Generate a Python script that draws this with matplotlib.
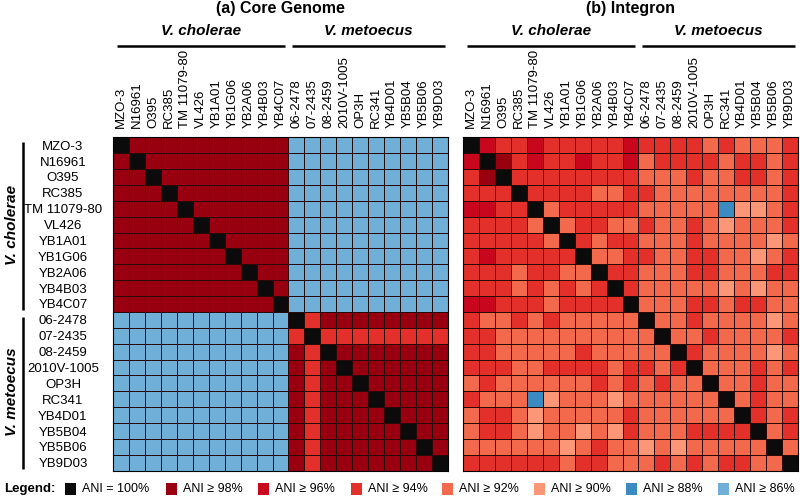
import numpy as np
import matplotlib
matplotlib.use("Agg")
import matplotlib.pyplot as plt
from matplotlib.colors import ListedColormap
from matplotlib.transforms import blended_transform_factory
from matplotlib.patches import Rectangle

plt.rcParams['font.family'] = ['Liberation Sans', 'DejaVu Sans']

# souches
cholerae = ["MZO-3", "N16961", "O395", "RC385", "TM 11079-80", "VL426",
            "YB1A01", "YB1G06", "YB2A06", "YB4B03", "YB4C07"]
metoecus = ["06-2478", "07-2435", "08-2459", "2010V-1005", "OP3H", "RC341",
            "YB4D01", "YB5B04", "YB5B06", "YB9D03"]
souches = cholerae + metoecus

# classes d'ANI (code -> libelle legende)
codes = ["K", "D", "C", "R", "O", "P", "B", "L"]
legendes = ["ANI = 100%", "ANI \u2265 98%", "ANI \u2265 96%", "ANI \u2265 94%",
            "ANI \u2265 92%", "ANI \u2265 90%", "ANI \u2265 88%", "ANI \u2265 86%"]
couleurs = ["#0b0b0b", "#98000f", "#c8061e", "#e3302a", "#f2694b", "#fb9676",
            "#3b8bc2", "#70b0d8"]

# (a) core genome, une ligne par souche
core = [
    "KDDDDDDDDDDLLLLLLLLLL",
    "DKDDDDDDDDDLLLLLLLLLL",
    "DDKDDDDDDDDLLLLLLLLLL",
    "DDDKDDDDDDDLLLLLLLLLL",
    "DDDDKDDDDDDLLLLLLLLLL",
    "DDDDDKDDDDDLLLLLLLLLL",
    "DDDDDDKDDDDLLLLLLLLLL",
    "DDDDDDDKDDDLLLLLLLLLL",
    "DDDDDDDDKDDLLLLLLLLLL",
    "DDDDDDDDDKDLLLLLLLLLL",
    "DDDDDDDDDDKLLLLLLLLLL",
    "LLLLLLLLLLLKRDDDDDDDD",
    "LLLLLLLLLLLRKRRRRRRRR",
    "LLLLLLLLLLLDRKDDDDDDD",
    "LLLLLLLLLLLDRDKDDDDDD",
    "LLLLLLLLLLLDRDDKDDDDD",
    "LLLLLLLLLLLDRDDDKDDDD",
    "LLLLLLLLLLLDRDDDDKDDD",
    "LLLLLLLLLLLDRDDDDDKDD",
    "LLLLLLLLLLLDRDDDDDDKD",
    "LLLLLLLLLLLDRDDDDDDDK",
]

# (b) integron
integron = [
    "KCRRCRRRRRCRRRROROOOR",
    "CKDRCRRCRRCORRRRORROR",
    "RDKRRRRRRRROOOROORROR",
    "RRRKRRRROORROOOOOOOOR",
    "CCRRKORRRRROOOOOBPPOR",
    "RRRROKORROOROOROPOOOR",
    "RRRRROKRORROOOROOOOPO",
    "RCRRRRRKOORROORROOPOR",
    "RRRORROOKRROOORROOORR",
    "RRRORORORKROOOOOPOPOO",
    "CCRRRORRRRKOOORRORROO",
    "ROOROROOOOOKOOROOOOPO",
    "RROOOOOOOOOOKOOROOOOR",
    "RROOOOOROOOOOKROOOOPO",
    "RRROORRRRORRORKOOOROR",
    "OROOOOOOROROROOKOOROO",
    "ROOOBPOOOPOOOOOOKOROO",
    "ORROPOOOOOROOOOOOKROR",
    "ORROPOOPOPROOORRRRKOR",
    "OOOOOOPOROOPOPOOOOOKO",
    "RRRRRRORROOORORORROOK",
]

cmap = ListedColormap(couleurs)
n = len(souches)


def en_indices(matrice):
    return np.array([[codes.index(c) for c in ligne] for ligne in matrice])


fig = plt.figure(figsize=(8, 4.99), dpi=100)
H = 499.0
ax1 = fig.add_axes([113 / 800, (H - 470.7) / H, 335 / 800, 333.4 / H])
ax2 = fig.add_axes([463 / 800, (H - 470.7) / H, 335 / 800, 333.4 / H])

for ax, mat, titre in [(ax1, core, "(a) Core Genome"), (ax2, integron, "(b) Integron")]:
    ax.pcolormesh(en_indices(mat), cmap=cmap, vmin=-0.5, vmax=7.5,
                  edgecolors="#2a0a08", linewidth=0.7)
    ax.set_xlim(0, n)
    ax.set_ylim(n, 0)
    ax.xaxis.tick_top()
    ax.set_xticks(np.arange(n) + 0.5)
    ax.set_xticklabels(souches, rotation=90, fontsize=9.5, va="bottom")
    ax.tick_params(axis="x", length=0, pad=7)
    ax.set_yticks([])
    for s in ax.spines.values():
        s.set_linewidth(0.8)
    tr = blended_transform_factory(ax.transData, ax.transAxes)
    # groupes au-dessus
    for nom, debut, fin in [("V. cholerae", 0, len(cholerae)), ("V. metoecus", len(cholerae), n)]:
        ax.plot([debut + 0.25, fin - 0.2], [1.274, 1.274], color="black", lw=1.8,
                transform=tr, clip_on=False, solid_capstyle="butt")
        ax.text((debut + fin) / 2, 1.318, nom, transform=tr, ha="center", va="center",
                fontsize=11, fontweight="bold", style="italic")
    ax.text(0.5, 1.386, titre, transform=ax.transAxes, ha="center", va="center",
            fontsize=11.5, fontweight="bold")

# etiquettes des lignes (seulement a gauche)
ax1.set_yticks(np.arange(n) + 0.5)
ax1.set_yticklabels(souches, fontsize=9.5, ha="center")
ax1.tick_params(axis="y", length=0, pad=36)

# groupes a gauche
tr = blended_transform_factory(ax1.transAxes, ax1.transData)
for nom, debut, fin in [("V. cholerae", 0, len(cholerae)), ("V. metoecus", len(cholerae), n)]:
    ax1.plot([-0.27, -0.27], [debut + 0.3, fin - 0.1], color="black", lw=1.8,
             transform=tr, clip_on=False, solid_capstyle="butt")
    ax1.text(-0.302, (debut + fin) / 2, nom, transform=tr, ha="center", va="center",
             rotation=90, fontsize=11, fontweight="bold", style="italic")

# legende
yl = (H - 489) / H
fig.text(4 / 800, yl, "Legend:", fontsize=9.5, fontweight="bold", va="center")
pos_carre = [65, 166, 258, 351, 442, 534, 626, 718]
for i in range(len(codes)):
    x0 = pos_carre[i] / 800
    fig.patches.append(Rectangle((x0, yl - 6 / H), 11 / 800, 12 / H, transform=fig.transFigure,
                                 facecolor=couleurs[i], edgecolor="none"))
    fig.text(x0 + 17 / 800, yl, legendes[i], fontsize=9, va="center")

fig.savefig("out.png", dpi=100)
